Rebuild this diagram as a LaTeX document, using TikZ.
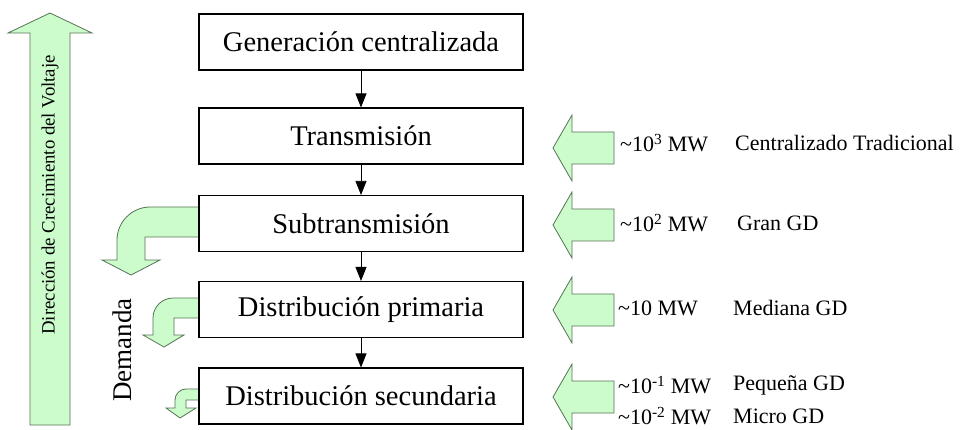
\documentclass[tikz,border=0pt]{standalone}
\usepackage{fontspec}
\setmainfont{Liberation Serif}
\usepackage{xcolor}
\usepackage{tikz}
\usetikzlibrary{arrows.meta}

\definecolor{verdeclaro}{RGB}{204,252,204}
\definecolor{verdeborde}{RGB}{85,115,85}

\tikzset{
  nivel/.style={draw, line width=1.1pt, minimum width=324pt, minimum height=56pt, inner sep=0pt, font=\fontsize{28.5}{31}\selectfont},
  flujo/.style={-{Triangle[length=14pt,width=11pt]}, line width=0.8pt},
  bloque/.style={fill=verdeclaro, draw=verdeborde, line width=0.8pt},
  potencia/.style={anchor=west, inner sep=0pt, font=\fontsize{22}{24}\selectfont}
}

\begin{document}
\begin{tikzpicture}[x=1pt, y=-1pt]
\useasboundingbox (0,0) rectangle (963,430);

% flecha del voltaje
\draw[bloque] (30,425) -- (30,33) -- (8,33) -- (50,13) -- (92,33) -- (70,33) -- (70,425) -- cycle;
\node[rotate=90, font=\fontsize{18.8}{20}\selectfont] (voltaje) at (50,195) {Dirección de Crecimiento del Voltaje};

% flechas de demanda
\draw[bloque] (199,207) -- (150,207) .. controls (132,207) and (117,222) .. (117,240) -- (117,260) -- (102,260) -- (131,275) -- (160,260) -- (145,260) -- (145,237) -- (199,237);
\draw[bloque] (199,298) -- (173,298) .. controls (162,298) and (153,307) .. (153,318) -- (153,335) -- (143,335) -- (164,347) -- (184,335) -- (174,335) -- (174,318) -- (199,318);
\draw[bloque] (199,389) -- (186,389) .. controls (180,389) and (175,394) .. (175,400) -- (175,408) -- (166,408) -- (180,418) -- (196,408) -- (186,408) -- (186,400) -- (199,400);
\node[rotate=90, font=\fontsize{27}{30}\selectfont] (demanda) at (122,350) {Demanda};

% niveles
\node[nivel] (gen) at (361,42) {Generación centralizada};
\node[nivel] (trans) at (361,136) {Transmisión};
\node[nivel] (subt) at (361,223.5) {Subtransmisión};
\node[nivel] (dprim) at (361,309.5) {Distribución primaria};
\node[nivel] (dsec) at (361,396) {Distribución secundaria};

\draw[flujo] (gen) -- (trans);
\draw[flujo] (trans) -- (subt);
\draw[flujo] (subt) -- (dprim);
\draw[flujo] (dprim) -- (dsec);

% flechas de generacion
\foreach \y in {148,225,310,397} {
  \draw[bloque] (553,\y) -- (572,\y-33) -- (572,\y-16) -- (614,\y-16) -- (614,\y+16) -- (572,\y+16) -- (572,\y+33) -- cycle;
}

\node[potencia] (p3) at (620,143) {\textasciitilde10\textsuperscript{3} MW};
\node[potencia] (p2) at (620,223) {\textasciitilde10\textsuperscript{2} MW};
\node[potencia] (p1) at (618,308) {\textasciitilde10 MW};
\node[potencia] (pm1) at (618,385) {\textasciitilde10\textsuperscript{-1} MW};
\node[potencia] (pm2) at (618,416) {\textasciitilde10\textsuperscript{-2} MW};

\node[potencia] (c3) at (735,143) {Centralizado Tradicional};
\node[potencia] (c2) at (737,223) {Gran GD};
\node[potencia] (c1) at (733,308) {Mediana GD};
\node[potencia] (cm1) at (733,385) {Pequeña GD};
\node[potencia] (cm2) at (733,416) {Micro GD};
\end{tikzpicture}
\end{document}
